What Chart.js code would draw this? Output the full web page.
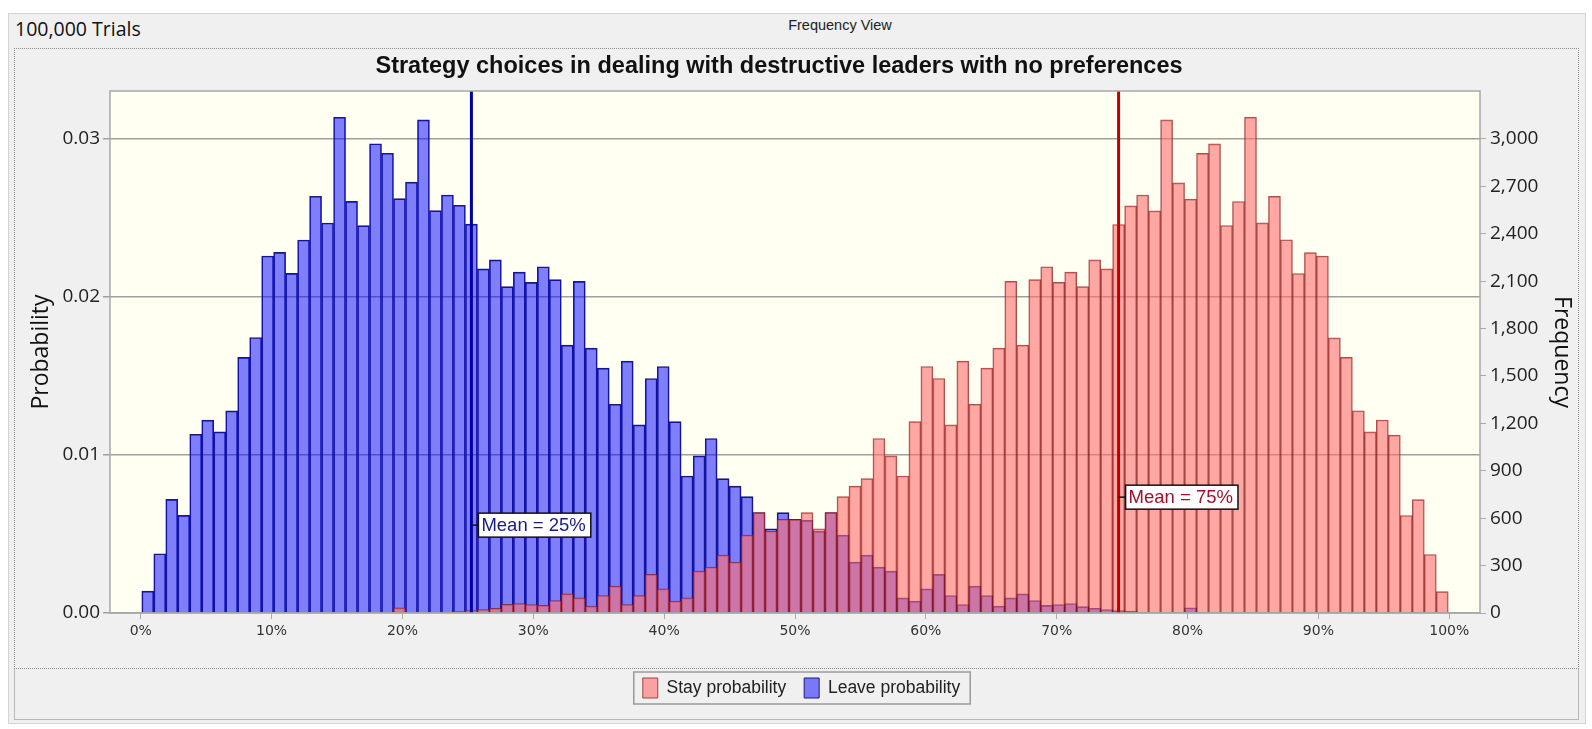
<!DOCTYPE html>
<html>
<head>
<meta charset="utf-8">
<script src="https://cdn.jsdelivr.net/npm/chart.js@4.4.1/dist/chart.umd.min.js"></script>
<style>
  body { margin: 0; background: #fff; }
  #wrap { position: relative; width: 1592px; height: 729px; overflow: hidden; }
  .abs { position: absolute; }
  #panel { left: 8px; top: 13px; width: 1576px; height: 709px; background: #f0f0f0; border: 1px solid #d4d4d4; }
  #frame { left: 14px; top: 48px; width: 1563px; height: 619px; border: 1px dotted #8a8a8a; }
  #legendBand { left: 14px; top: 669px; width: 1563px; height: 50px; border: 1px solid #b8b8b8; border-top: none; }
  #trials { left: 15px; top: 15px; line-height: 20px; font: 19.5px "Open Sans", sans-serif; color: #111; }
  #view { left: 8px; width: 1664px; top: 17px; text-align: center; font: 14.5px "Liberation Sans", Arial, sans-serif; color: #222; }
  canvas { position: absolute; left: 0; top: 0; }
</style>
</head>
<body>
<div id="wrap">
  <div id="panel" class="abs"></div>
  <div id="frame" class="abs"></div>
  <div id="legendBand" class="abs"></div>
  <div id="trials" class="abs">100,000 Trials</div>
  <div id="view" class="abs">Frequency View</div>
  <canvas id="chart" width="1592" height="729"></canvas>
</div>
<script>
// histogram bins: 109 equal bins, start and width in percent
const binStart = 0.08;
const binWidth = 0.916;

// Stay probability (red), probability per bin
const stayProb = [
  0, 0, 0, 0, 0, 0, 0, 0, 0, 0,
  0, 0, 0, 0, 0, 0, 0, 0, 0, 0,
  0, 0.00033, 0, 0, 0, 0.00005, 0.00010, 0.00015, 0.00022, 0.00030,
  0.00055, 0.00060, 0.00054, 0.00048, 0.00079, 0.00121, 0.00096, 0.00043, 0.00111, 0.00170,
  0.00054, 0.00111, 0.00244, 0.00153, 0.00075, 0.00096, 0.00265, 0.00290, 0.00366, 0.00322,
  0.00493, 0.00635, 0.00518, 0.00592, 0.00592, 0.00635, 0.00533, 0.00635, 0.00736, 0.00803,
  0.00850, 0.01104, 0.00994, 0.00867, 0.01211, 0.01560, 0.01484, 0.01190, 0.01594, 0.01321,
  0.01549, 0.01676, 0.02098, 0.01695, 0.02109, 0.02191, 0.02092, 0.02157, 0.02065, 0.02234,
  0.02177, 0.02458, 0.02576, 0.02645, 0.02544, 0.03120, 0.02722, 0.02619, 0.02908, 0.02968,
  0.02452, 0.02604, 0.03137, 0.02469, 0.02636, 0.02362, 0.02148, 0.02280, 0.02259, 0.01741,
  0.01617, 0.01280, 0.01146, 0.01221, 0.01126, 0.00617, 0.00717, 0.00370, 0.00135
];

// Leave probability (blue)
const leaveProb = [
  0.00138, 0.00375, 0.00719, 0.00618, 0.01131, 0.01220, 0.01146, 0.01279, 0.01617, 0.01743,
  0.02259, 0.02282, 0.02149, 0.02360, 0.02637, 0.02468, 0.03137, 0.02605, 0.02451, 0.02969,
  0.02909, 0.02622, 0.02726, 0.03120, 0.02546, 0.02645, 0.02580, 0.02461, 0.02177, 0.02234,
  0.02065, 0.02157, 0.02092, 0.02191, 0.02109, 0.01695, 0.02098, 0.01676, 0.01549, 0.01321,
  0.01594, 0.01190, 0.01484, 0.01560, 0.01211, 0.00867, 0.00994, 0.01104, 0.00850, 0.00803,
  0.00736, 0.00635, 0.00533, 0.00635, 0.00592, 0.00586, 0.00518, 0.00635, 0.00493, 0.00322,
  0.00366, 0.00290, 0.00265, 0.00096, 0.00075, 0.00153, 0.00244, 0.00111, 0.00054, 0.00170,
  0.00111, 0.00043, 0.00096, 0.00121, 0.00079, 0.00048, 0.00054, 0.00060, 0.00040, 0.00030,
  0.00022, 0.00015, 0.00010, 0.00005, 0, 0, 0, 0.00033, 0, 0,
  0, 0, 0, 0, 0, 0, 0, 0, 0, 0,
  0, 0, 0, 0, 0, 0, 0, 0, 0
];

const seriesNames = ['Stay probability', 'Leave probability'];
const meanValues = [74.73, 25.27];
const meanLabels = ['Mean = 75%', 'Mean = 25%'];

const pctTicks = [0, 10, 20, 30, 40, 50, 60, 70, 80, 90, 100];
const probTicks = [0, 0.01, 0.02, 0.03];
const freqTicks = [0, 300, 600, 900, 1200, 1500, 1800, 2100, 2400, 2700, 3000];
const trials = 100000;

const yMax = 0.03303;

const toPoints = arr => arr.map((v, i) => ({ x: binStart + (i + 0.5) * binWidth, y: v === 0 ? null : v }));

const plotBackground = {
  id: 'plotBackground',
  beforeDraw(chart) {
    const { ctx, chartArea: a } = chart;
    ctx.save();
    ctx.fillStyle = '#fffff2';
    ctx.fillRect(a.left, a.top, a.right - a.left, a.bottom - a.top);
    ctx.restore();
  },
  afterDraw(chart, args, opts) {
    const { ctx, chartArea: a } = chart;
    ctx.save();
    ctx.strokeStyle = '#a8a8a8';
    ctx.lineWidth = 1.5;
    ctx.strokeRect(a.left, a.top, a.right - a.left, a.bottom - a.top);
    // chart title, a little left of the plot centre as in the original
    ctx.fillStyle = '#111';
    ctx.font = 'bold 23.5px "Liberation Sans", Arial, sans-serif';
    ctx.textAlign = 'center';
    ctx.textBaseline = 'middle';
    ctx.fillText(opts.title, (a.left + a.right) / 2 - 16, 67);
    // box around legend
    const boxes = chart.legend.legendHitBoxes;
    if (boxes && boxes.length) {
      const l = Math.min(...boxes.map(b => b.left)) - 9;
      const r = Math.max(...boxes.map(b => b.left + b.width)) + 10;
      const t = boxes[0].top - 6;
      const h = boxes[0].height + 12;
      ctx.strokeStyle = '#9a9a9a';
      ctx.lineWidth = 1.5;
      ctx.strokeRect(l, t, r - l, h);
    }
    ctx.restore();
  }
};

const meanMarkers = {
  id: 'meanMarkers',
  afterDatasetsDraw(chart, args, opts) {
    const { ctx, chartArea: a } = chart;
    const xs = chart.scales.x, ys = chart.scales.y;
    opts.items.forEach(m => {
      const x = xs.getPixelForValue(m.value);
      ctx.save();
      ctx.strokeStyle = m.line;
      ctx.lineWidth = 3;
      ctx.beginPath();
      ctx.moveTo(x, a.top);
      ctx.lineTo(x, a.bottom);
      ctx.stroke();
      const y = ys.getPixelForValue(m.at);
      ctx.font = '18.5px "Liberation Sans", Arial, sans-serif';
      const w = ctx.measureText(m.text).width + 8;
      const bx = x + 7, by = y - 12;
      ctx.lineWidth = 1.5;
      ctx.strokeStyle = '#111';
      ctx.beginPath();
      ctx.moveTo(x, y);
      ctx.lineTo(bx, y);
      ctx.stroke();
      ctx.fillStyle = '#fff';
      ctx.fillRect(bx, by, w, 24);
      ctx.strokeRect(bx, by, w, 24);
      ctx.fillStyle = m.color;
      ctx.textBaseline = 'middle';
      ctx.fillText(m.text, bx + 3, y + 1);
      ctx.restore();
    });
  }
};

new Chart(document.getElementById('chart'), {
  type: 'bar',
  data: {
    datasets: [{
      label: seriesNames[0],
      data: toPoints(stayProb),
      backgroundColor: 'rgba(255,110,110,0.6)',
      borderColor: 'rgba(140,20,20,0.75)',
      borderWidth: 1,
      borderSkipped: 'bottom',
      grouped: false,
      barPercentage: 1,
      categoryPercentage: 1
    }, {
      label: seriesNames[1],
      data: toPoints(leaveProb),
      backgroundColor: 'rgba(0,0,255,0.5)',
      borderColor: '#1b1b78',
      borderWidth: 1,
      borderSkipped: 'bottom',
      grouped: false,
      barPercentage: 1,
      categoryPercentage: 1
    }]
  },
  options: {
    responsive: false,
    animation: false,
    layout: { padding: { left: 28, right: 17, top: 91, bottom: 21 } },
    scales: {
      x: {
        type: 'linear',
        offset: false,
        min: -2.35,
        max: 102.35,
        afterBuildTicks: s => { s.ticks = pctTicks.map(v => ({ value: v })); },
        afterFit: s => { s.height = 47; },
        ticks: {
          callback: v => v + '%',
          color: '#333',
          padding: 4,
          maxRotation: 0,
          autoSkip: false,
          font: { family: 'DejaVu Sans', size: 14 }
        },
        grid: { drawOnChartArea: false, offset: false, tickLength: 6, color: '#aaa' },
        border: { display: false }
      },
      y: {
        position: 'left',
        min: 0,
        max: yMax,
        afterBuildTicks: s => { s.ticks = probTicks.map(v => ({ value: v })); },
        afterFit: s => { s.width = 82; },
        ticks: {
          callback: v => v.toFixed(2),
          color: '#222',
          padding: 3,
          font: { family: 'Open Sans', size: 19 }
        },
        grid: { color: '#a0a0a0', lineWidth: 1.5, tickLength: 7 },
        border: { display: false },
        title: {
          display: true,
          text: 'Probability',
          color: '#111',
          font: { family: 'Open Sans', size: 23 },
          padding: { top: 0, bottom: 0 }
        }
      },
      y2: {
        position: 'right',
        min: 0,
        max: yMax * trials,
        afterBuildTicks: s => { s.ticks = freqTicks.map(v => ({ value: v })); },
        afterFit: s => { s.width = 95; },
        ticks: {
          callback: v => v.toLocaleString('en-US'),
          color: '#222',
          padding: 4,
          font: { family: 'Open Sans', size: 19 }
        },
        grid: { drawOnChartArea: false, tickLength: 6, color: '#aaa' },
        border: { display: false },
        title: {
          display: true,
          text: 'Frequency',
          color: '#111',
          font: { family: 'Open Sans', size: 23 },
          padding: { top: 0, bottom: 0 }
        }
      }
    },
    plugins: {
      legend: {
        position: 'bottom',
        labels: {
          boxWidth: 15,
          boxHeight: 20,
          padding: 18,
          color: '#222',
          font: { family: 'Liberation Sans', size: 17.5 }
        }
      },
      tooltip: { enabled: false },
      plotBackground: { title: 'Strategy choices in dealing with destructive leaders with no preferences' },
      meanMarkers: {
        items: [
          { value: meanValues[1], text: meanLabels[1], at: 0.00556, line: '#0000a8', color: '#1a1a8a' },
          { value: meanValues[0], text: meanLabels[0], at: 0.00733, line: '#c00000', color: '#a0102a' }
        ]
      }
    }
  },
  plugins: [plotBackground, meanMarkers]
});
</script>
</body>
</html>
